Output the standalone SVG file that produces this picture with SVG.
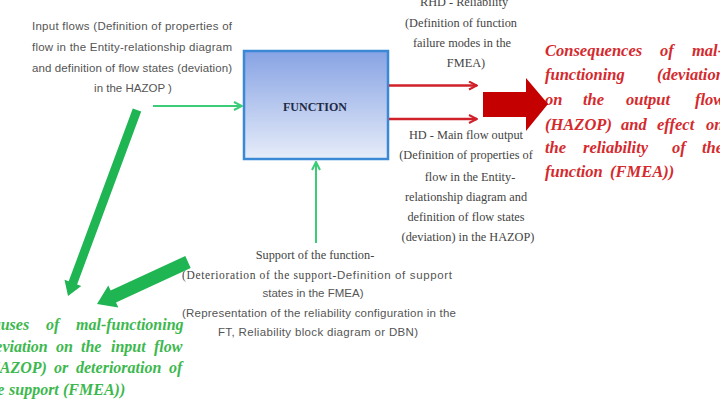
<svg xmlns="http://www.w3.org/2000/svg" width="720" height="406" viewBox="0 0 720 406">
<defs>
<linearGradient id="boxg" x1="0" y1="0" x2="0" y2="1">
<stop offset="0" stop-color="#87a3e4"/>
<stop offset="1" stop-color="#e6ecf9"/>
</linearGradient>
<marker id="ag" viewBox="0 0 10 10" refX="9" refY="5" markerWidth="5" markerHeight="5" orient="auto" markerUnits="strokeWidth">
<path d="M1,1 L9,5 L1,9" fill="none" stroke="#3ccc78" stroke-width="2"/>
</marker>
<marker id="ar" viewBox="0 0 10 10" refX="9" refY="5" markerWidth="4" markerHeight="4" orient="auto" markerUnits="strokeWidth">
<path d="M1,1 L9,5 L1,9" fill="none" stroke="#d0202a" stroke-width="2"/>
</marker>
</defs>
<style>
.gs{font-family:"Liberation Sans",Arial,sans-serif;font-size:11.5px;fill:#555;text-anchor:middle}
.gr{font-family:"Liberation Serif","Times New Roman",serif;font-size:12.3px;fill:#444;text-anchor:middle}
.red{font-family:"Liberation Serif","Times New Roman",serif;font-size:16.5px;font-weight:bold;font-style:italic;fill:#d42a2e}
.grn{font-family:"Liberation Serif","Times New Roman",serif;font-size:16px;font-weight:bold;font-style:italic;fill:#3cb84e}
.thin-g{stroke:#3ccc78;stroke-width:2;fill:none}
.thin-r{stroke:#d0202a;stroke-width:2.5;fill:none}
</style>
<rect width="720" height="406" fill="#ffffff"/>

<g id="function">
<rect x="244" y="51" width="144" height="108" fill="url(#boxg)" stroke="#3b89d6" stroke-width="2.5"/>
<text x="315" y="111" font-family="'Liberation Serif','Times New Roman',serif" font-size="12" font-weight="bold" fill="#1f2a44" text-anchor="middle">FUNCTION</text>
</g>

<g id="input-flows">
<text class="gs" x="132" y="30" textLength="200" lengthAdjust="spacing">Input flows (Definition of properties of</text>
<text class="gs" x="132" y="51" textLength="200" lengthAdjust="spacing">flow in the Entity-relationship diagram</text>
<text class="gs" x="132" y="71.5" textLength="200" lengthAdjust="spacing">and definition of flow states (deviation)</text>
<text class="gs" x="133" y="92">in the HAZOP )</text>
</g>

<g id="rhd">
<text class="gr" x="464" y="6">RHD  - Reliability</text>
<text class="gr" x="461" y="27">(Definition of function</text>
<text class="gr" x="462" y="47">failure modes in the</text>
<text class="gr" x="466" y="67">FMEA)</text>
</g>

<g id="hd">
<text class="gr" x="466" y="139">HD  - Main flow output</text>
<text class="gr" x="466" y="159">(Definition of properties of</text>
<text class="gr" x="470" y="181">flow in the Entity-</text>
<text class="gr" x="466" y="201">relationship diagram and</text>
<text class="gr" x="466" y="221">definition of flow states</text>
<text class="gr" x="468" y="241">(deviation) in the HAZOP)</text>
</g>

<g id="support">
<text class="gr" x="315" y="259">Support of the function-</text>
<text class="gs" x="317" y="279" textLength="270" lengthAdjust="spacing"><tspan font-family="'Liberation Serif','Times New Roman',serif" fill="#444">(Deterioration of the support-</tspan>Definition of support</text>
<text class="gs" x="313" y="297">states in the FMEA)</text>
<text class="gs" x="319" y="317" textLength="274" lengthAdjust="spacing">(Representation of the reliability configuration in the</text>
<text class="gs" x="318" y="336" textLength="200" lengthAdjust="spacing">FT, Reliability block diagram  or DBN)</text>
</g>

<g id="consequences">
<text class="red" y="56"><tspan x="545">Consequences</tspan><tspan x="660">of</tspan><tspan x="692">mal-</tspan></text>
<text class="red" y="80"><tspan x="545">functioning</tspan><tspan x="657">(deviation</tspan></text>
<text class="red" y="105"><tspan x="545">on</tspan><tspan x="583">the</tspan><tspan x="626">output</tspan><tspan x="695">flow</tspan></text>
<text class="red" y="130"><tspan x="545">(HAZOP)</tspan><tspan x="621">and</tspan><tspan x="657">effect</tspan><tspan x="706">on</tspan></text>
<text class="red" y="153"><tspan x="545">the</tspan><tspan x="583">reliability</tspan><tspan x="672">of</tspan><tspan x="702">the</tspan></text>
<text class="red" y="177"><tspan x="545">function</tspan><tspan x="610">(FMEA))</tspan></text>
</g>

<g id="causes">
<text class="grn" y="330"><tspan x="-18">Causes</tspan><tspan x="46">of</tspan><tspan x="76">mal-functioning</tspan></text>
<text class="grn" y="352"><tspan x="-18">(deviation</tspan><tspan x="56">on</tspan><tspan x="81">the</tspan><tspan x="111">input</tspan><tspan x="154">flow</tspan></text>
<text class="grn" y="373"><tspan x="-18">(HAZOP)</tspan><tspan x="54">or</tspan><tspan x="76">deterioration</tspan><tspan x="169">of</tspan></text>
<text class="grn" y="395"><tspan x="-16">the</tspan><tspan x="9">support</tspan><tspan x="63">(FMEA))</tspan></text>
</g>

<g id="connectors">
<line class="thin-g" x1="153" y1="106" x2="242" y2="106" marker-end="url(#ag)"/>
<line class="thin-g" x1="316" y1="243" x2="316" y2="162" marker-end="url(#ag)"/>
<line class="thin-r" x1="389" y1="85.5" x2="477" y2="85.5" marker-end="url(#ar)"/>
<line class="thin-r" x1="389" y1="119" x2="477" y2="119" marker-end="url(#ar)"/>
<polygon points="483,92 526,92 526,78 548,104 526,131 526,117 483,117" fill="#c40000"/>
<polygon points="132.8,108.4 141.2,111.6 77.1,284.5 81.3,286 68,296 64.5,279.8 68.7,281.3" fill="#1fb552"/>
<polygon points="185.3,256.1 190.7,267.9 116,302.4 118.3,307.4 97,304 108.3,285.6 110.6,290.6" fill="#1fb552"/>
</g>
</svg>
